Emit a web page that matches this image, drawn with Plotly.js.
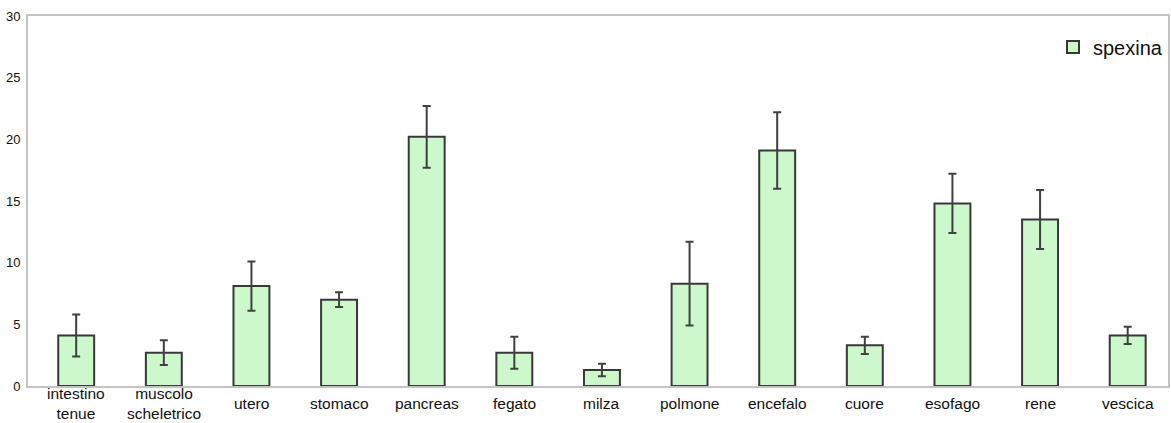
<!DOCTYPE html>
<html>
<head>
<meta charset="utf-8">
<script src="https://cdn.plot.ly/plotly-3.0.1.min.js"></script>
<style>html,body{margin:0;padding:0;background:#fff;}#chart{width:1171px;height:423px;}</style>
</head>
<body>
<div id="chart"></div>
<script>
const categories = ["intestino<br>tenue","muscolo<br>scheletrico","utero","stomaco","pancreas","fegato","milza","polmone","encefalo","cuore","esofago","rene","vescica"];
const values = [4.1, 2.7, 8.1, 7.0, 20.2, 2.7, 1.3, 8.3, 19.1, 3.3, 14.8, 13.5, 4.1];
const errors = [1.7, 1.0, 2.0, 0.6, 2.5, 1.3, 0.5, 3.4, 3.1, 0.7, 2.4, 2.4, 0.7];
const seriesName = "spexina";
const yTicks = [0, 5, 10, 15, 20, 25, 30];

const trace = {
  type: "bar",
  x: categories,
  y: values,
  name: seriesName,
  width: 0.41,
  marker: {color: "#ccf8cc", line: {color: "#383838", width: 2}},
  error_y: {type: "data", array: errors, visible: true, color: "#404040", thickness: 2, width: 4},
  showlegend: true
};

const labelAnnotations = categories.map(c => ({
  x: c, xref: "x", y: -0.046, yref: "paper",
  text: c, showarrow: false, xanchor: "center", yanchor: "middle",
  borderpad: 0,
  font: {size: 15.5, color: "#111", family: "Liberation Sans, Arial, sans-serif"}
}));

const layout = {
  width: 1171, height: 423,
  margin: {l: 28, r: 3, t: 16, b: 37},
  paper_bgcolor: "#ffffff", plot_bgcolor: "#ffffff",
  font: {family: "Liberation Sans, Arial, sans-serif", color: "#111"},
  xaxis: {
    type: "category", range: [-0.55, 12.46],
    showline: true, linecolor: "#c4c4c4", linewidth: 2, mirror: true,
    showgrid: false, zeroline: false, ticks: "", showticklabels: false,
    automargin: false
  },
  yaxis: {
    range: [0, 30], tickvals: yTicks, ticktext: yTicks.map(String),
    showline: true, linecolor: "#c4c4c4", linewidth: 2, mirror: true,
    showgrid: false, zeroline: false, ticks: "", ticklabelstandoff: 3,
    tickfont: {size: 13, color: "#111", family: "Liberation Sans Narrow, Liberation Sans, Arial, sans-serif"},
    automargin: false
  },
  annotations: labelAnnotations,
  legend: {
    x: 1, xanchor: "right", y: 0.916, yanchor: "middle",
    bgcolor: "rgba(0,0,0,0)",
    font: {size: 20, color: "#111"},
    itemwidth: 30
  },
  showlegend: true
};

Plotly.newPlot("chart", [trace], layout, {displayModeBar: false, staticPlot: true});
</script>
</body>
</html>
